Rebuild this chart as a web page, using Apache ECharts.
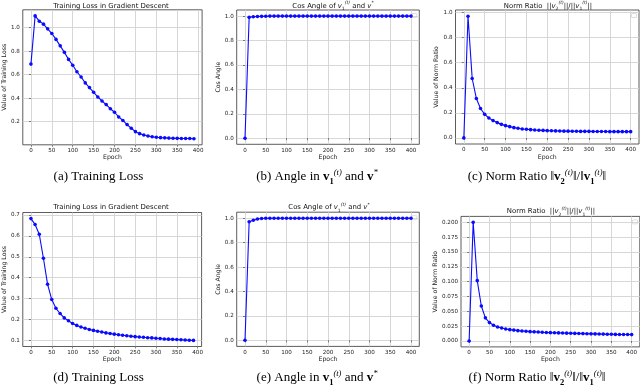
<!DOCTYPE html>
<html>
<head>
<meta charset="utf-8">
<script src="https://cdn.jsdelivr.net/npm/echarts@6/dist/echarts.min.js"></script>
<style>
  html, body { margin: 0; padding: 0; background: #fff; }
  #chart { width: 640px; height: 387px; }
</style>
</head>
<body>
<div id="chart"></div>
<script>
// epochs (top-left and bottom-left runs stop at 390, the others at 400)
const epochsShort = [0, 10, 20, 30, 40, 50, 60, 70, 80, 90, 100, 110, 120, 130, 140, 150, 160, 170, 180, 190,
  200, 210, 220, 230, 240, 250, 260, 270, 280, 290, 300, 310, 320, 330, 340, 350, 360, 370, 380, 390];
const epochsLong = [0, 10, 20, 30, 40, 50, 60, 70, 80, 90, 100, 110, 120, 130, 140, 150, 160, 170, 180, 190,
  200, 210, 220, 230, 240, 250, 260, 270, 280, 290, 300, 310, 320, 330, 340, 350, 360, 370, 380, 390, 400];

// (a) training loss
const lossTop = [0.69, 1.10, 1.055, 1.03, 0.99, 0.95, 0.90, 0.845, 0.79, 0.73,
  0.68, 0.625, 0.58, 0.53, 0.49, 0.45, 0.41, 0.376, 0.345, 0.31,
  0.28, 0.24, 0.21, 0.175, 0.144, 0.115, 0.098, 0.087, 0.078, 0.072,
  0.067, 0.064, 0.062, 0.06, 0.059, 0.058, 0.057, 0.056, 0.056, 0.055];
// (b) cos angle
const cosTop = [0, 0.99, 0.995, 0.997, 0.998, 0.999, 1, 1, 1, 1,
  1, 1, 1, 1, 1, 1, 1, 1, 1, 1,
  1, 1, 1, 1, 1, 1, 1, 1, 1, 1,
  1, 1, 1, 1, 1, 1, 1, 1, 1, 1, 1];
// (c) norm ratio
const ratioTop = [0, 0.971, 0.474, 0.315, 0.235, 0.188, 0.159, 0.138, 0.122, 0.108,
  0.098, 0.09, 0.082, 0.077, 0.071, 0.069, 0.066, 0.063, 0.061, 0.06,
  0.058, 0.057, 0.056, 0.055, 0.054, 0.054, 0.053, 0.053, 0.052, 0.052,
  0.052, 0.051, 0.051, 0.051, 0.051, 0.05, 0.05, 0.05, 0.05, 0.05, 0.05];
// (d) training loss
const lossBottom = [0.683, 0.655, 0.608, 0.493, 0.368, 0.295, 0.253, 0.228, 0.207, 0.193,
  0.18, 0.171, 0.163, 0.157, 0.151, 0.147, 0.143, 0.139, 0.135, 0.132,
  0.129, 0.126, 0.124, 0.121, 0.119, 0.117, 0.115, 0.114, 0.112, 0.111,
  0.109, 0.108, 0.106, 0.105, 0.104, 0.103, 0.102, 0.101, 0.1, 0.099];
// (e) cos angle
const cosBottom = [0, 0.972, 0.984, 0.994, 0.998, 1, 1, 1, 1, 1,
  1, 1, 1, 1, 1, 1, 1, 1, 1, 1,
  1, 1, 1, 1, 1, 1, 1, 1, 1, 1,
  1, 1, 1, 1, 1, 1, 1, 1, 1, 1, 1];
// (f) norm ratio
const ratioBottom = [0, 0.2, 0.1017, 0.059, 0.039, 0.031, 0.0264, 0.0236, 0.0219, 0.0202,
  0.0191, 0.0183, 0.0174, 0.0169, 0.0163, 0.0157, 0.0154, 0.0152, 0.0146, 0.0143,
  0.014, 0.0138, 0.0136, 0.0134, 0.0132, 0.013, 0.0128, 0.0126, 0.0124, 0.0122,
  0.012, 0.0119, 0.0117, 0.0116, 0.0114, 0.0113, 0.0111, 0.011, 0.0109, 0.0108, 0.0107];

// tick labels
const xTicks = [0, 50, 100, 150, 200, 250, 300, 350, 400];
const yTicksLossTop = [0.2, 0.4, 0.6, 0.8, 1.0];
const yTicksUnit = [0, 0.2, 0.4, 0.6, 0.8, 1.0];
const yTicksLossBottom = [0.1, 0.2, 0.3, 0.4, 0.5, 0.6, 0.7];
const yTicksRatioBottom = [0, 0.025, 0.05, 0.075, 0.1, 0.125, 0.15, 0.175, 0.2];

const SANS = "'DejaVu Sans', sans-serif";
const SERIF = "'Liberation Serif', 'DejaVu Serif', serif";
const BLUE = "#0a0aff";

// panel layout: box = [left, top, width, height]
const panels = [
  { box: [17.6, 9.8, 184.5, 135], xr: [-19.5, 409.5], yr: [0.003, 1.152], x: epochsShort, y: lossTop,
    yTicks: yTicksLossTop, digits: 1, yName: "Value of Training Loss", yGap: 10.5, legend: false,
    title: "Training Loss in Gradient Descent", titleAt: [111, 6] },
  { box: [236.7, 10, 182.6, 134.3], xr: [-20, 420], yr: [-0.05, 1.05], x: epochsLong, y: cosTop,
    yTicks: yTicksUnit, digits: 1, yName: "Cos Angle", yGap: 12, legend: true,
    title: "Cos Angle of {it|v}{sub|1}{sup|(t)} and {it|v}{sup|*}", titleAt: [333, 6] },
  { box: [455.5, 10, 183.5, 134], xr: [-20, 420], yr: [-0.0486, 1.0206], x: epochsLong, y: ratioTop,
    yTicks: yTicksUnit, digits: 1, yName: "Value of Norm Ratio", yGap: 12.5, legend: true,
    title: "Norm Ratio  ||{it|v}{sub|2}{sup|(t)}||/||{it|v}{sub|1}{sup|(t)}||", titleAt: [548, 6] },
  { box: [17.6, 212.5, 184, 134], xr: [-19.5, 409.5], yr: [0.0698, 0.7122], x: epochsShort, y: lossBottom,
    yTicks: yTicksLossBottom, digits: 1, yName: "Value of Training Loss", yGap: 10.5, legend: false,
    title: "Training Loss in Gradient Descent", titleAt: [111, 207.5] },
  { box: [236.7, 212.2, 182.6, 134.2], xr: [-20, 420], yr: [-0.05, 1.05], x: epochsLong, y: cosBottom,
    yTicks: yTicksUnit, digits: 1, yName: "Cos Angle", yGap: 12, legend: true,
    title: "Cos Angle of {it|v}{sub|1}{sup|(t)} and {it|v}{sup|*}", titleAt: [329, 207.5] },
  { box: [461, 216.4, 179, 130.5], xr: [-20, 420], yr: [-0.01, 0.21], x: epochsLong, y: ratioBottom,
    yTicks: yTicksRatioBottom, digits: 3, yName: "Value of Norm Ratio", yGap: 18, legend: true,
    title: "Norm Ratio  ||{it|v}{sub|2}{sup|(t)}||/||{it|v}{sub|1}{sup|(t)}||", titleAt: [551, 211.5] }
];

const captions = [
  { text: "(a) Training Loss", at: [98.5, 177] },
  { text: "(b) Angle in {b|v}{sub|1}{sup|(t)} and {b|v}{sup|*}", at: [317, 177] },
  { text: "(c) Norm Ratio \u2016{b|v}{sub|2}{sup|(t)}\u2016/\u2016{b|v}{sub|1}{sup|(t)}\u2016", at: [537, 177] },
  { text: "(d) Training Loss", at: [98.5, 378] },
  { text: "(e) Angle in {b|v}{sub|1}{sup|(t)} and {b|v}{sup|*}", at: [317, 378] },
  { text: "(f) Norm Ratio \u2016{b|v}{sub|2}{sup|(t)}\u2016/\u2016{b|v}{sub|1}{sup|(t)}\u2016", at: [537, 378] }
];

const titleRich = {
  it: { fontFamily: SANS, fontStyle: "italic", fontSize: 6.9, lineHeight: 11, fill: "#111" },
  sup: { fontFamily: SANS, fontStyle: "italic", fontSize: 4.5, lineHeight: 6, verticalAlign: "top", fill: "#111" },
  sub: { fontFamily: SANS, fontSize: 4.5, lineHeight: 6, verticalAlign: "bottom", fill: "#111" }
};
const captionRich = {
  b: { fontFamily: SERIF, fontWeight: "bold", fontSize: 13, lineHeight: 18, fill: "#000" },
  sup: { fontFamily: SERIF, fontStyle: "italic", fontSize: 8.5, lineHeight: 9, verticalAlign: "top", fill: "#000" },
  sub: { fontFamily: SERIF, fontWeight: "bold", fontSize: 8.5, lineHeight: 9, verticalAlign: "bottom", fill: "#000" }
};

const grids = [], xAxes = [], yAxes = [], series = [], graphics = [];

panels.forEach(function (p, i) {
  grids.push({
    left: p.box[0], top: p.box[1], width: p.box[2], height: p.box[3],
    show: true, borderColor: "#333", borderWidth: 0.8, backgroundColor: "transparent"
  });
  xAxes.push({
    type: "value", gridIndex: i, min: p.xr[0], max: p.xr[1],
    name: "Epoch", nameLocation: "middle", nameGap: 8.5,
    nameTextStyle: { fontSize: 6.2, fontFamily: SANS, color: "#222" },
    axisLine: { show: false },
    axisTick: { show: true, customValues: xTicks, length: 2, lineStyle: { color: "#333", width: 0.6 } },
    axisLabel: { customValues: xTicks, fontSize: 5.6, fontFamily: SANS, color: "#222", margin: 3 },
    splitLine: { show: true, lineStyle: { color: "#d2d2d2", width: 0.9 } }
  });
  yAxes.push({
    type: "value", gridIndex: i, min: p.yr[0], max: p.yr[1],
    name: p.yName, nameLocation: "middle", nameGap: p.yGap,
    nameTextStyle: { fontSize: 6.2, fontFamily: SANS, color: "#222" },
    axisLine: { show: false },
    axisTick: { show: true, customValues: p.yTicks, length: 2, lineStyle: { color: "#333", width: 0.6 } },
    axisLabel: {
      customValues: p.yTicks, fontSize: 5.6, fontFamily: SANS, color: "#222", margin: 3,
      formatter: function (v) { return v.toFixed(p.digits); }
    },
    splitLine: { show: true, lineStyle: { color: "#d2d2d2", width: 0.9 } }
  });
  series.push({
    type: "line", xAxisIndex: i, yAxisIndex: i,
    data: p.x.map(function (e, j) { return [e, p.y[j]]; }),
    symbol: "circle", symbolSize: 3.6,
    lineStyle: { color: BLUE, width: 1.1 },
    itemStyle: { color: BLUE },
    animation: false
  });
  graphics.push({
    type: "text", x: p.titleAt[0], y: p.titleAt[1],
    style: {
      text: p.title, align: "center", verticalAlign: "middle",
      fontFamily: SANS, fontSize: 6.9, lineHeight: 11, fill: "#111", rich: titleRich
    }
  });
  if (p.legend) {
    // matplotlib draws an empty legend frame in the corner
    graphics.push({
      type: "rect",
      shape: { x: p.box[0] + p.box[2] - 7.5, y: p.box[1] + 3.5, width: 5, height: 4, r: 0.5 },
      style: { fill: "#fff", stroke: "#c8c8c8", lineWidth: 0.6 }
    });
  }
});

captions.forEach(function (c) {
  graphics.push({
    type: "text", x: c.at[0], y: c.at[1],
    style: {
      text: c.text, align: "center", verticalAlign: "middle",
      fontFamily: SERIF, fontSize: 13, lineHeight: 18, fill: "#000", rich: captionRich
    }
  });
});

const myChart = echarts.init(document.getElementById("chart"), null, { renderer: "canvas" });
myChart.setOption({
  animation: false,
  backgroundColor: "#fff",
  grid: grids,
  xAxis: xAxes,
  yAxis: yAxes,
  series: series,
  graphic: graphics
});
</script>
</body>
</html>
